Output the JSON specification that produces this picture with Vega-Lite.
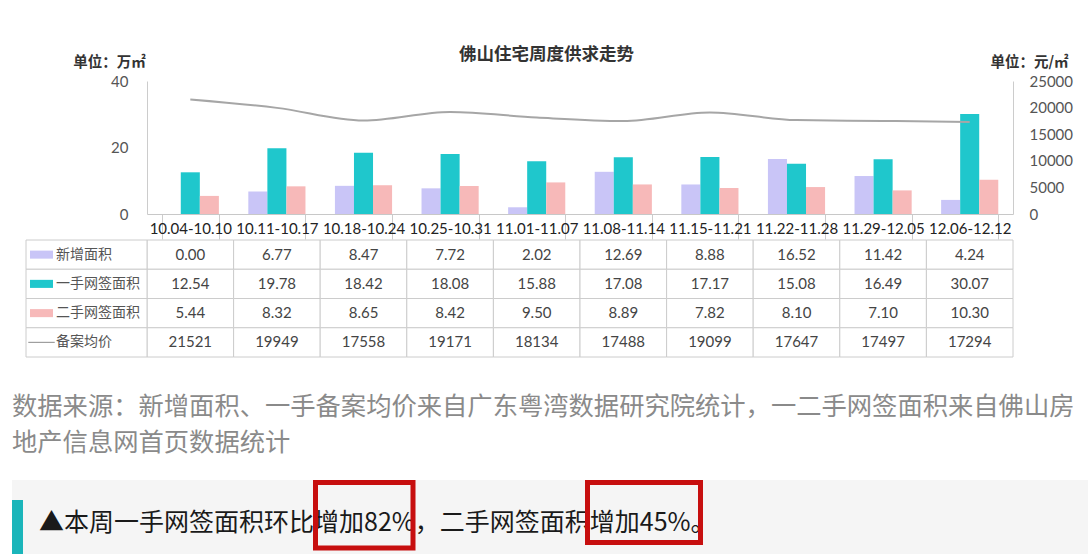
{
  "$schema": "https://vega.github.io/schema/vega-lite/v6.json",
  "width": 1088,
  "height": 554,
  "autosize": {"type": "none"},
  "padding": 0,
  "background": "#ffffff",
  "config": {"view": {"stroke": null}, "font": "Noto Sans CJK SC"},
  "datasets": {
    "weekly": [
      {"week": "10.04-10.10", "新增面积": 0.00, "一手网签面积": 12.54, "二手网签面积": 5.44, "备案均价": 21521},
      {"week": "10.11-10.17", "新增面积": 6.77, "一手网签面积": 19.78, "二手网签面积": 8.32, "备案均价": 19949},
      {"week": "10.18-10.24", "新增面积": 8.47, "一手网签面积": 18.42, "二手网签面积": 8.65, "备案均价": 17558},
      {"week": "10.25-10.31", "新增面积": 7.72, "一手网签面积": 18.08, "二手网签面积": 8.42, "备案均价": 19171},
      {"week": "11.01-11.07", "新增面积": 2.02, "一手网签面积": 15.88, "二手网签面积": 9.50, "备案均价": 18134},
      {"week": "11.08-11.14", "新增面积": 12.69, "一手网签面积": 17.08, "二手网签面积": 8.89, "备案均价": 17488},
      {"week": "11.15-11.21", "新增面积": 8.88, "一手网签面积": 17.17, "二手网签面积": 7.82, "备案均价": 19099},
      {"week": "11.22-11.28", "新增面积": 16.52, "一手网签面积": 15.08, "二手网签面积": 8.10, "备案均价": 17647},
      {"week": "11.29-12.05", "新增面积": 11.42, "一手网签面积": 16.49, "二手网签面积": 7.10, "备案均价": 17497},
      {"week": "12.06-12.12", "新增面积": 4.24, "一手网签面积": 30.07, "二手网签面积": 10.30, "备案均价": 17294}
    ],
    "legendRows": [
      {"row": "新增面积", "col": "图例"},
      {"row": "一手网签面积", "col": "图例"},
      {"row": "二手网签面积", "col": "图例"},
      {"row": "备案均价", "col": "图例"}
    ]
  },
  "layer": [
    {
      "data": {"values": [{"块": "结论"}]},
      "mark": {"type": "rect", "fill": "#f5f5f5"},
      "encoding": {
        "x": {"field": "块", "type": "nominal", "scale": {"range": [12, 1088], "paddingInner": 0, "paddingOuter": 0}, "axis": null},
        "y": {"field": "块", "type": "nominal", "scale": {"range": [480, 554], "paddingInner": 0, "paddingOuter": 0}, "axis": null}
      }
    },
    {
      "data": {"values": [{"块": "竖条"}]},
      "mark": {"type": "rect", "fill": "#1ab5ba"},
      "encoding": {
        "x": {"field": "块", "type": "nominal", "scale": {"range": [12, 23], "paddingInner": 0, "paddingOuter": 0}, "axis": null},
        "y": {"field": "块", "type": "nominal", "scale": {"range": [500, 554], "paddingInner": 0, "paddingOuter": 0}, "axis": null}
      }
    },
    {
      "data": {"name": "weekly"},
      "transform": [{"fold": ["新增面积", "一手网签面积", "二手网签面积", "备案均价"], "as": ["row", "val"]}],
      "mark": {"type": "rect", "fill": "#ffffff", "stroke": "#cccccc", "strokeWidth": 1},
      "encoding": {
        "x": {"field": "week", "type": "nominal", "sort": null, "scale": {"range": [147, 1013], "paddingInner": 0, "paddingOuter": 0}, "axis": null},
        "y": {"field": "row", "type": "nominal", "sort": ["新增面积", "一手网签面积", "二手网签面积", "备案均价"], "scale": {"domain": ["新增面积", "一手网签面积", "二手网签面积", "备案均价"], "range": [240, 357], "paddingInner": 0, "paddingOuter": 0}, "axis": null}
      }
    },
    {
      "data": {"name": "legendRows"},
      "mark": {"type": "rect", "fill": "#ffffff", "stroke": "#cccccc", "strokeWidth": 1},
      "encoding": {
        "x": {"field": "col", "type": "nominal", "scale": {"range": [26, 147], "paddingInner": 0, "paddingOuter": 0}, "axis": null},
        "y": {"field": "row", "type": "nominal", "scale": {"domain": ["新增面积", "一手网签面积", "二手网签面积", "备案均价"], "range": [240, 357], "paddingInner": 0, "paddingOuter": 0}, "axis": null}
      }
    },
    {
      "data": {"name": "weekly"},
      "transform": [{"fold": ["新增面积", "一手网签面积", "二手网签面积"], "as": ["series", "value"]}],
      "mark": {"type": "bar"},
      "encoding": {
        "x": {
          "field": "week", "type": "nominal", "sort": null,
          "scale": {"range": [147, 1013], "paddingInner": 0.34, "paddingOuter": 0.17},
          "axis": {
            "orient": "bottom", "offset": -340, "title": null, "labelAngle": 0,
            "labelFont": "Lato", "labelFontSize": 15, "labelColor": "#222222",
            "labelPadding": -11, "labelBaseline": "middle", "labelOverlap": false, "labelFlush": false,
            "domainColor": "#c8c8c8", "tickBand": "extent", "tickSize": 25, "tickColor": "#cccccc"
          }
        },
        "xOffset": {"field": "series", "type": "nominal", "sort": ["新增面积", "一手网签面积", "二手网签面积"], "scale": {"paddingInner": 0, "paddingOuter": 0}},
        "y": {
          "field": "value", "type": "quantitative",
          "scale": {"domain": [0, 40], "range": [214, 81], "nice": false},
          "axis": {
            "orient": "left", "offset": -147, "values": [0, 20, 40], "grid": false, "ticks": false,
            "labelFont": "Lato", "labelFontSize": 15, "labelColor": "#555555", "labelPadding": 19,
            "domainColor": "#cccccc",
            "title": "单位：万㎡", "titleAngle": 0, "titleAlign": "center", "titleBaseline": "middle",
            "titleX": -38, "titleY": 62, "titleFontSize": 14.5, "titleFontWeight": "bold", "titleColor": "#333333", "titleFont": "Noto Sans CJK SC"
          }
        },
        "color": {
          "field": "series", "type": "nominal",
          "scale": {"domain": ["新增面积", "一手网签面积", "二手网签面积"], "range": ["#c9c5f7", "#1fc7cc", "#f7b9b9"]},
          "legend": null
        }
      }
    },
    {
      "data": {"name": "weekly"},
      "mark": {"type": "line", "interpolate": "monotone", "stroke": "#a6a6a6", "strokeWidth": 2},
      "encoding": {
        "x": {"field": "week", "type": "nominal", "sort": null, "scale": {"type": "point", "range": [147, 1013], "padding": 0.5}, "axis": null},
        "y": {
          "field": "备案均价", "type": "quantitative",
          "scale": {"domain": [0, 25000], "range": [214, 81], "nice": false},
          "axis": {
            "orient": "right", "offset": -75, "values": [0, 5000, 10000, 15000, 20000, 25000], "format": "d",
            "grid": false, "ticks": false,
            "labelFont": "Lato", "labelFontSize": 15, "labelColor": "#555555", "labelPadding": 16,
            "domainColor": "#cccccc",
            "title": "单位：元/㎡", "titleAngle": 0, "titleAlign": "center", "titleBaseline": "middle",
            "titleX": 16, "titleY": 62, "titleFontSize": 14.5, "titleFontWeight": "bold", "titleColor": "#333333", "titleFont": "Noto Sans CJK SC"
          }
        }
      }
    },
    {
      "data": {"name": "weekly"},
      "transform": [
        {"fold": ["新增面积", "一手网签面积", "二手网签面积", "备案均价"], "as": ["row", "val"]},
        {"filter": "datum.row != '备案均价'"}
      ],
      "mark": {"type": "text", "font": "Lato", "fontSize": 15, "color": "#444444"},
      "encoding": {
        "x": {"field": "week", "type": "nominal", "sort": null, "scale": {"range": [147, 1013], "paddingInner": 0, "paddingOuter": 0}, "axis": null},
        "y": {"field": "row", "type": "nominal", "scale": {"domain": ["新增面积", "一手网签面积", "二手网签面积", "备案均价"], "range": [240, 357], "paddingInner": 0, "paddingOuter": 0}, "axis": null},
        "text": {"field": "val", "type": "quantitative", "format": ".2f"}
      }
    },
    {
      "data": {"name": "weekly"},
      "transform": [
        {"fold": ["新增面积", "一手网签面积", "二手网签面积", "备案均价"], "as": ["row", "val"]},
        {"filter": "datum.row == '备案均价'"}
      ],
      "mark": {"type": "text", "font": "Lato", "fontSize": 15, "color": "#444444"},
      "encoding": {
        "x": {"field": "week", "type": "nominal", "sort": null, "scale": {"range": [147, 1013], "paddingInner": 0, "paddingOuter": 0}, "axis": null},
        "y": {"field": "row", "type": "nominal", "scale": {"domain": ["新增面积", "一手网签面积", "二手网签面积", "备案均价"], "range": [240, 357], "paddingInner": 0, "paddingOuter": 0}, "axis": null},
        "text": {"field": "val", "type": "quantitative", "format": "d"}
      }
    },
    {
      "data": {"name": "legendRows"},
      "mark": {"type": "point", "filled": true, "opacity": 1, "size": 529, "xOffset": -45, "strokeWidth": 0},
      "encoding": {
        "x": {"field": "col", "type": "nominal", "scale": {"range": [26, 147], "paddingInner": 0, "paddingOuter": 0}, "axis": null},
        "y": {"field": "row", "type": "nominal", "scale": {"domain": ["新增面积", "一手网签面积", "二手网签面积", "备案均价"], "range": [240, 357], "paddingInner": 0, "paddingOuter": 0}, "axis": null},
        "shape": {"field": "row", "type": "nominal", "scale": {"domain": ["新增面积", "一手网签面积", "二手网签面积", "备案均价"], "range": ["M-1,-0.35H1V0.35H-1Z", "M-1,-0.35H1V0.35H-1Z", "M-1,-0.35H1V0.35H-1Z", "M-1.15,-0.05H1.15V0.05H-1.15Z"]}, "legend": null},
        "color": {"field": "row", "type": "nominal", "scale": {"domain": ["新增面积", "一手网签面积", "二手网签面积", "备案均价"], "range": ["#c9c5f7", "#1fc7cc", "#f7b9b9", "#9a9a9a"]}, "legend": null}
      }
    },
    {
      "data": {"name": "legendRows"},
      "mark": {"type": "text", "align": "left", "dx": -30.5, "fontSize": 14, "color": "#555555"},
      "encoding": {
        "x": {"field": "col", "type": "nominal", "scale": {"range": [26, 147], "paddingInner": 0, "paddingOuter": 0}, "axis": null},
        "y": {"field": "row", "type": "nominal", "scale": {"domain": ["新增面积", "一手网签面积", "二手网签面积", "备案均价"], "range": [240, 357], "paddingInner": 0, "paddingOuter": 0}, "axis": null},
        "text": {"field": "row"}
      }
    },
    {
      "data": {"values": [{"标题": "佛山住宅周度供求走势"}]},
      "mark": {"type": "text", "fontSize": 17.5, "fontWeight": "bold", "color": "#333333", "baseline": "middle"},
      "encoding": {
        "x": {"field": "标题", "type": "nominal", "scale": {"range": [458, 635], "paddingInner": 0, "paddingOuter": 0}, "axis": null},
        "y": {"field": "标题", "type": "nominal", "scale": {"range": [45, 65], "paddingInner": 0, "paddingOuter": 0}, "axis": null},
        "text": {"field": "标题"}
      }
    },
    {
      "data": {"values": [
        {"行": "1", "块": "数据来源", "内容": "数据来源：新增面积、一手备案均价来自广东粤湾数据研究院统计，一二手网签面积来自佛山房"},
        {"行": "2", "块": "数据来源", "内容": "地产信息网首页数据统计"}
      ]},
      "mark": {"type": "text", "align": "left", "baseline": "middle", "fontSize": 25.3, "color": "#8a8a8a"},
      "encoding": {
        "x": {"field": "块", "type": "nominal", "scale": {"range": [11.5, 12.5], "paddingInner": 0, "paddingOuter": 0}, "axis": null},
        "y": {"field": "行", "type": "ordinal", "scale": {"type": "point", "range": [407, 443], "padding": 0}, "axis": null},
        "text": {"field": "内容"}
      }
    },
    {
      "data": {"values": [{"块": "结论", "内容": "▲本周一手网签面积环比增加82%，二手网签面积增加45%。"}]},
      "mark": {"type": "text", "align": "left", "baseline": "middle", "fontSize": 25, "color": "#1a1a1a"},
      "encoding": {
        "x": {"field": "块", "type": "nominal", "scale": {"range": [38.5, 39.5], "paddingInner": 0, "paddingOuter": 0}, "axis": null},
        "y": {"field": "块", "type": "nominal", "scale": {"range": [503, 543], "paddingInner": 0, "paddingOuter": 0}, "axis": null},
        "text": {"field": "内容"}
      }
    },
    {
      "data": {"values": [{"标注": "增加82%"}]},
      "mark": {"type": "rect", "fill": "transparent", "stroke": "#c70f0f", "strokeWidth": 5},
      "encoding": {
        "x": {"field": "标注", "type": "nominal", "scale": {"range": [315.5, 413], "paddingInner": 0, "paddingOuter": 0}, "axis": null},
        "y": {"field": "标注", "type": "nominal", "scale": {"range": [482.5, 548], "paddingInner": 0, "paddingOuter": 0}, "axis": null}
      }
    },
    {
      "data": {"values": [{"标注": "增加45%"}]},
      "mark": {"type": "rect", "fill": "transparent", "stroke": "#c70f0f", "strokeWidth": 5},
      "encoding": {
        "x": {"field": "标注", "type": "nominal", "scale": {"range": [587.5, 700.5], "paddingInner": 0, "paddingOuter": 0}, "axis": null},
        "y": {"field": "标注", "type": "nominal", "scale": {"range": [482.5, 542.5], "paddingInner": 0, "paddingOuter": 0}, "axis": null}
      }
    }
  ],
  "resolve": {
    "scale": {"x": "independent", "y": "independent", "color": "independent", "shape": "independent"}
  }
}
